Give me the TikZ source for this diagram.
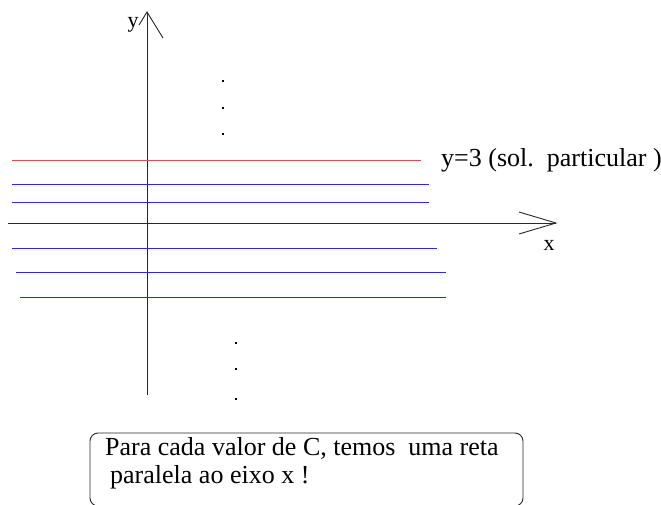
\documentclass[tikz,border=0pt]{standalone}
\usepackage{fontspec}
\setmainfont{Liberation Serif}
\definecolor{lineblue}{RGB}{40,40,240}
\definecolor{linered}{RGB}{235,70,70}
\definecolor{axisgray}{RGB}{40,40,40}
\begin{document}
\begin{tikzpicture}[x=1pt,y=-1pt,
  axis/.style={draw=axisgray,line width=0.9pt},
  blueline/.style={draw=lineblue,line width=0.9pt},
  redline/.style={draw=linered,line width=0.9pt},
  dotmark/.style={fill=black,inner sep=0pt,minimum size=2.4pt,rectangle},
  lbl/.style={inner sep=0pt,font=\fontsize{26}{30}\selectfont},
  axlbl/.style={inner sep=0pt,font=\fontsize{22}{26}\selectfont}]
\useasboundingbox (0,0) rectangle (661,505);
% axes
\coordinate (yb) at (147,395);
\coordinate (yt) at (147,12);
\coordinate (yl) at (139,25);
\coordinate (yr) at (163,38);
\coordinate (xl) at (8,223);
\coordinate (xt) at (556,223);
\coordinate (xu) at (519,212);
\coordinate (xd) at (519,234);
\draw[axis] (yb) -- (yt);
\draw[axis] (yl) -- (yt) -- (yr);
\draw[axis] (xl) -- (xt);
\draw[axis] (xu) -- (xt) -- (xd);
\node[axlbl,anchor=base] (ylab) at (133,28) {y};
\node[axlbl,anchor=base] (xlab) at (549,251) {x};
% lines
\coordinate (r1) at (12,160); \coordinate (r2) at (421,160);
\coordinate (b1a) at (12,184); \coordinate (b1b) at (429,184);
\coordinate (b2a) at (12,202); \coordinate (b2b) at (429,202);
\coordinate (b3a) at (12,248); \coordinate (b3b) at (437,248);
\coordinate (b4a) at (16,272.5); \coordinate (b4b) at (446,272.5);
\coordinate (b5a) at (20,297.5); \coordinate (b5b) at (446,297.5);
\draw[redline] (r1) -- (r2);
\draw[blueline] (b1a) -- (b1b);
\draw[blueline] (b2a) -- (b2b);
\draw[blueline] (b3a) -- (b3b);
\draw[blueline] (b4a) -- (b4b);
\draw[blueline] (b5a) -- (b5b);
\node[lbl,anchor=base west] (sol) at (441,167) {y=3 (sol.\ \ particular )};
% dots
\node[dotmark] (d1) at (223,81) {};
\node[dotmark] (d2) at (223,108) {};
\node[dotmark] (d3) at (223,134) {};
\node[dotmark] (d4) at (236,343) {};
\node[dotmark] (d5) at (236,369) {};
\node[dotmark] (d6) at (236,399) {};
% box
\draw[axisgray,line width=0.9pt,rounded corners=8pt] (90,433) rectangle (523,506);
\node[lbl,anchor=base west] (t1) at (105,455) {Para cada valor de C, temos\ \ uma reta};
\node[lbl,anchor=base west] (t2) at (110,483) {paralela ao eixo x !};
\end{tikzpicture}
\end{document}
